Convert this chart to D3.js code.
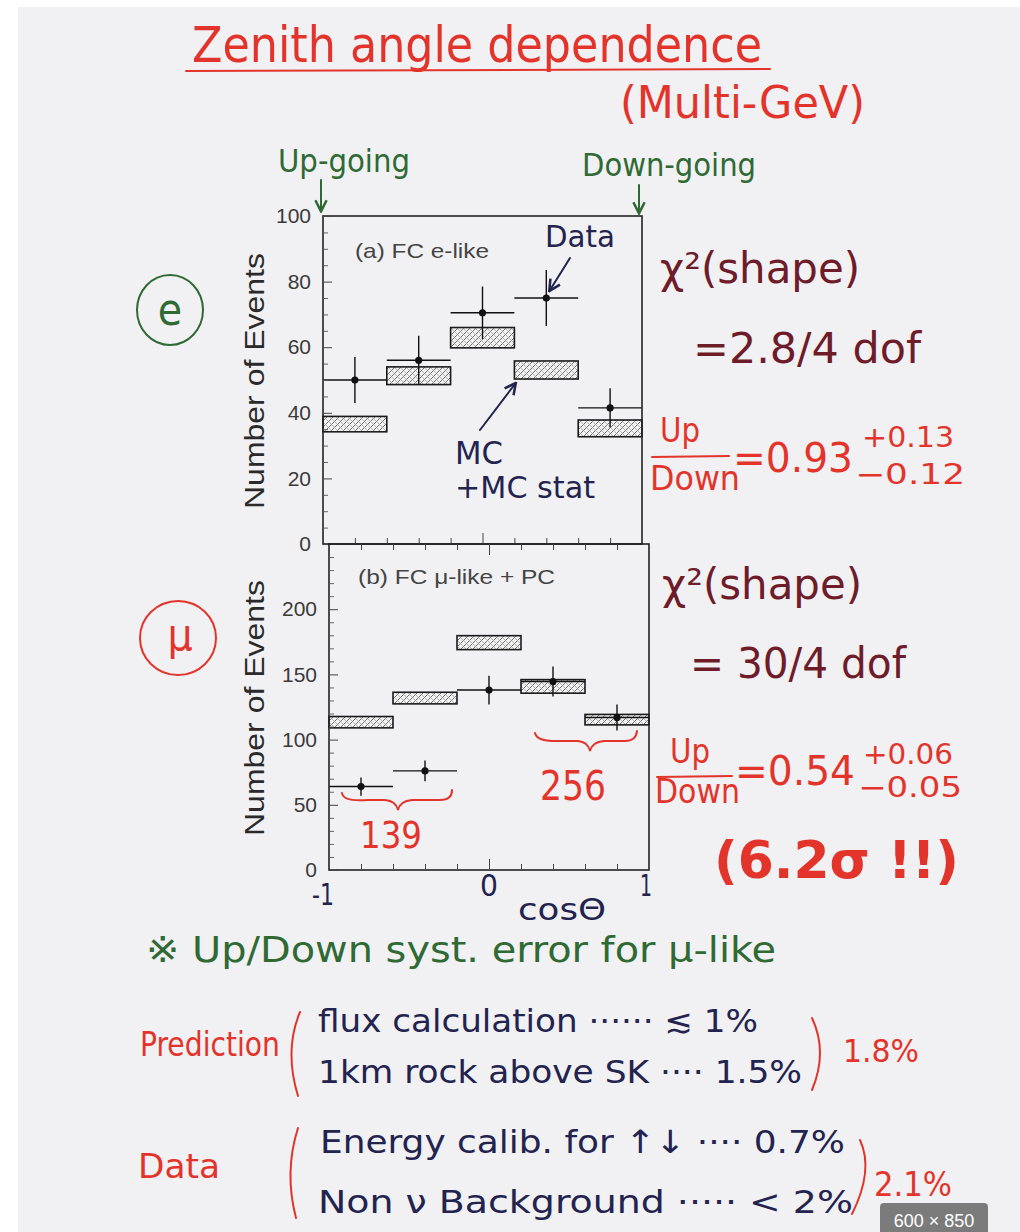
<!DOCTYPE html>
<html>
<head>
<meta charset="utf-8">
<script src="https://cdn.jsdelivr.net/npm/d3@7"></script>
<style>
  html, body { margin: 0; padding: 0; background: #ffffff; }
  svg { display: block; }
  .hand { font-family: "DejaVu Sans Condensed", "DejaVu Sans", sans-serif; }
  .print { font-family: "Liberation Sans", Arial, sans-serif; }
</style>
</head>
<body>
<script>
// ---- data: Super-Kamiokande multi-GeV zenith angle distributions ----
const binEdges = [-1, -0.6, -0.2, 0.2, 0.6, 1];          // cos(zenith) bins
const eData    = [50, 56, 70.5, 75, 41.5];               // FC e-like, data
const eErr     = [7, 7.5, 8, 8.5, 6];
const eMcLow   = [34.2, 48.6, 59.8, 50.3, 32.7];          // MC band (incl. MC stat)
const eMcHigh  = [38.9, 54, 66, 55.8, 37.8];
const muData   = [64, 76, 138, 144.5, 117];              // FC mu-like + PC, data
const muErr    = [7, 8, 11, 11.5, 10];
const muMcLow  = [109, 127.4, 169, 135.6, 111.3];
const muMcHigh = [117.7, 136.3, 179.7, 146, 119.3];
const eTicks   = [0, 20, 40, 60, 80, 100];
const muTicks  = [0, 50, 100, 150, 200];

const W = 1020, H = 1232;
const RED = "#e3342c", GREEN = "#2f6a34", NAVY = "#23234f", BROWN = "#6e1c2a";

const svg = d3.select("body").append("svg").attr("width", W).attr("height", H);

// page background
svg.append("rect").attr("x", 0).attr("y", 0).attr("width", W).attr("height", H).attr("fill", "#ffffff");
svg.append("rect").attr("x", 18).attr("y", 7).attr("width", W - 18).attr("height", H - 7).attr("fill", "#f1f1f3");

// cross-hatch fill for the MC boxes
const defs = svg.append("defs");
const pat = defs.append("pattern").attr("id", "hatch").attr("patternUnits", "userSpaceOnUse")
  .attr("width", 6).attr("height", 6);
pat.append("rect").attr("width", 6).attr("height", 6).attr("fill", "#f2f2f2");
pat.append("path").attr("d", "M0,6 L6,0 M-1,1 L1,-1 M5,7 L7,5").attr("stroke", "#6e6e6e").attr("stroke-width", 1);
pat.append("path").attr("d", "M0,3 L3,6 M3,0 L6,3").attr("stroke", "#9a9a9a").attr("stroke-width", 0.7);

const arrowHead = (id, color) => {
  defs.append("marker").attr("id", id).attr("viewBox", "0 0 10 10").attr("refX", 8).attr("refY", 5)
    .attr("markerWidth", 7).attr("markerHeight", 7).attr("orient", "auto-start-reverse")
    .append("path").attr("d", "M1,1 L9,5 L1,9").attr("fill", "none").attr("stroke", color).attr("stroke-width", 1.8);
};
arrowHead("arG", GREEN);
arrowHead("arN", NAVY);

// ---- panels ----
const panels = [
  { data: eData, err: eErr, lo: eMcLow, hi: eMcHigh, ticks: eTicks, minor: 5, max: 100,
    x: d3.scaleLinear([-1, 1], [323, 642]), y: d3.scaleLinear([0, 100], [544, 216]),
    label: "(a) FC e-like", labelPos: [355, 258], labelLen: 134, titleY: 381 },
  { data: muData, err: muErr, lo: muMcLow, hi: muMcHigh, ticks: muTicks, minor: 10, max: 250,
    x: d3.scaleLinear([-1, 1], [329, 649]), y: d3.scaleLinear([0, 250], [870, 544]),
    label: "(b) FC \u03bc-like + PC", labelPos: [358, 584], labelLen: 197, titleY: 708 }
];

panels.forEach((p, pi) => {
  const g = svg.append("g");
  const [x0, x1] = p.x.range(), [yb, yt] = p.y.range();
  const bins = d3.range(binEdges.length - 1);
  const mid = i => (binEdges[i] + binEdges[i + 1]) / 2;

  // MC boxes
  g.selectAll("rect.mc").data(bins).join("rect")
    .attr("x", i => p.x(binEdges[i]))
    .attr("width", i => p.x(binEdges[i + 1]) - p.x(binEdges[i]))
    .attr("y", i => p.y(p.hi[i]))
    .attr("height", i => p.y(p.lo[i]) - p.y(p.hi[i]))
    .attr("fill", "url(#hatch)").attr("stroke", "#1a1a1a").attr("stroke-width", 1.6);

  // data: horizontal bin span, vertical error, dot
  g.selectAll("line.h").data(bins).join("line")
    .attr("x1", i => p.x(binEdges[i])).attr("x2", i => p.x(binEdges[i + 1]))
    .attr("y1", i => p.y(p.data[i])).attr("y2", i => p.y(p.data[i]))
    .attr("stroke", "#111").attr("stroke-width", 1.4);
  g.selectAll("line.v").data(bins).join("line")
    .attr("x1", i => p.x(mid(i))).attr("x2", i => p.x(mid(i)))
    .attr("y1", i => p.y(p.data[i] - p.err[i])).attr("y2", i => p.y(p.data[i] + p.err[i]))
    .attr("stroke", "#111").attr("stroke-width", 1.4);
  g.selectAll("circle").data(bins).join("circle")
    .attr("cx", i => p.x(mid(i))).attr("cy", i => p.y(p.data[i]))
    .attr("r", 3.6).attr("fill", "#111");

  // frame
  g.append("rect").attr("x", x0).attr("y", yt).attr("width", x1 - x0).attr("height", yb - yt)
    .attr("fill", "none").attr("stroke", "#222").attr("stroke-width", 1.6);

  // y axis: labelled ticks + minor ticks, pointing inward
  const yAxis = g.append("g").attr("transform", `translate(${x0},0)`)
    .call(d3.axisLeft(p.y).tickValues(p.ticks).tickSizeInner(-9).tickSizeOuter(0).tickPadding(12).tickFormat(d3.format("d")));
  yAxis.select(".domain").remove();
  yAxis.selectAll("line").attr("stroke", "#444").attr("stroke-width", 1);
  yAxis.selectAll("text").attr("class", "print").attr("font-size", 21).attr("fill", "#3a3a3a");
  const minorVals = d3.range(0, p.max + 0.001, p.minor).filter(v => !p.ticks.includes(v) && v > 0 && v < p.max);
  const yMinor = g.append("g").attr("transform", `translate(${x0},0)`)
    .call(d3.axisLeft(p.y).tickValues(minorVals).tickSizeInner(-5).tickSizeOuter(0).tickFormat(""));
  yMinor.select(".domain").remove();
  yMinor.selectAll("line").attr("stroke", "#555").attr("stroke-width", 0.9);

  // x ticks every 0.2 on the bottom edge (pointing up) and the top edge (pointing down)
  const xVals = d3.range(-0.8, 0.81, 0.2).map(v => +v.toFixed(1));
  const xb = g.append("g").attr("transform", `translate(0,${yb})`)
    .call(d3.axisBottom(p.x).tickValues(xVals).tickSizeInner(-6).tickSizeOuter(0).tickFormat(""));
  xb.select(".domain").remove();
  xb.selectAll("line").attr("stroke", "#444").attr("y2", d => d === 0 ? -11 : -6);
  if (pi === 1) {
    const xt = g.append("g").attr("transform", `translate(0,${yt})`)
      .call(d3.axisTop(p.x).tickValues(xVals).tickSizeInner(-6).tickSizeOuter(0).tickFormat(""));
    xt.select(".domain").remove();
    xt.selectAll("line").attr("stroke", "#444").attr("y2", d => d === 0 ? 11 : 6);
  }

  // panel label
  g.append("text").attr("class", "print").attr("x", p.labelPos[0]).attr("y", p.labelPos[1])
    .attr("font-size", 21).attr("fill", "#444").attr("textLength", p.labelLen)
    .attr("lengthAdjust", "spacingAndGlyphs").text(p.label);

  // axis title
  g.append("text").attr("class", "print").attr("transform", `translate(264,${p.titleY}) rotate(-90)`)
    .attr("text-anchor", "middle").attr("font-size", 27).attr("fill", "#2a2a2a")
    .attr("textLength", 256).attr("lengthAdjust", "spacingAndGlyphs").text("Number of Events");
});

// ---- handwritten annotations ----
function hand(txt, x, y, size, color, len, opts = {}) {
  const t = svg.append("text").attr("class", "hand").attr("x", x).attr("y", y)
    .attr("font-size", size).attr("fill", color).text(txt);
  if (len) t.attr("textLength", len).attr("lengthAdjust", "spacingAndGlyphs");
  if (opts.weight) t.attr("font-weight", opts.weight);
  if (opts.anchor) t.attr("text-anchor", opts.anchor);
  return t;
}
function stroke(d, color, w = 2.2, marker) {
  const p = svg.append("path").attr("d", d).attr("fill", "none").attr("stroke", color)
    .attr("stroke-width", w).attr("stroke-linecap", "round");
  if (marker) p.attr("marker-end", `url(#${marker})`);
  return p;
}

// title
hand("Zenith angle dependence", 192, 62, 50, RED, 570);
stroke("M186,71 L770,69", RED, 2);
hand("(Multi-GeV)", 620, 118, 44, RED, 245);

// direction labels
hand("Up-going", 278, 172, 32, GREEN, 132);
stroke("M321,180 L321,210", GREEN, 2, "arG");
hand("Down-going", 582, 176, 32, GREEN, 174);
stroke("M639,185 L639,212", GREEN, 2, "arG");

// circled flavour markers
svg.append("ellipse").attr("cx", 170).attr("cy", 310).attr("rx", 33).attr("ry", 35)
  .attr("fill", "none").attr("stroke", GREEN).attr("stroke-width", 2);
hand("e", 170, 325, 44, GREEN, null, { anchor: "middle" });
svg.append("ellipse").attr("cx", 178).attr("cy", 638).attr("rx", 38).attr("ry", 37)
  .attr("fill", "none").attr("stroke", RED).attr("stroke-width", 2);
hand("\u03bc", 180, 650, 44, RED, null, { anchor: "middle" });

// callouts in the top panel
hand("Data", 545, 247, 30, NAVY, 70);
stroke("M570,258 L550,290", NAVY, 2, "arN");
stroke("M480,430 L515,384", NAVY, 2, "arN");
hand("MC", 455, 464, 32, NAVY, 48);
hand("+MC stat", 455, 498, 30, NAVY, 140);

// event counts under the mu-like braces
stroke("M342,793 Q343,802 368,800 L385,800 Q396,801 398,810 Q400,801 412,800 L440,800 Q452,800 452,790", RED, 2);
hand("139", 360, 848, 38, RED, 62);
stroke("M535,733 Q537,742 560,741 L578,741 Q588,742 590,751 Q592,742 604,741 L625,741 Q636,741 637,731", RED, 2);
hand("256", 540, 800, 40, RED, 66);

// x axis values and title
hand("-1", 312, 905, 30, NAVY, 22);
hand("0", 480, 896, 30, NAVY, 18);
hand("1", 640, 896, 30, NAVY, 12);
hand("cos\u0398", 518, 920, 30, NAVY, 88);

// e-like results
hand("\u03c7\u00b2(shape)", 660, 283, 42, BROWN, 200);
hand("=2.8/4 dof", 693, 363, 42, BROWN, 228);
hand("Up", 660, 442, 34, RED, 40);
stroke("M652,457 L729,456", RED, 2);
hand("Down", 650, 490, 34, RED, 90);
hand("=0.93", 733, 472, 40, RED, 120);
hand("+0.13", 862, 447, 28, RED, 92);
hand("\u22120.12", 855, 484, 28, RED, 110);

// mu-like results
hand("\u03c7\u00b2(shape)", 662, 599, 42, BROWN, 200);
hand("= 30/4 dof", 690, 678, 42, BROWN, 216);
hand("Up", 670, 763, 34, RED, 40);
stroke("M657,777 L732,776", RED, 2);
hand("Down", 655, 803, 34, RED, 85);
hand("=0.54", 735, 785, 40, RED, 120);
hand("+0.06", 863, 764, 28, RED, 90);
hand("\u22120.05", 858, 797, 28, RED, 104);
hand("(6.2\u03c3 !!)", 714, 878, 52, RED, 245, { weight: "bold" });

// systematic error notes
hand("\u203b Up/Down syst. error for \u03bc-like", 146, 962, 36, GREEN, 630);
hand("Prediction", 140, 1056, 34, RED, 140);
stroke("M300,1012 Q284,1050 298,1096", RED, 2);
hand("flux calculation \u00b7\u00b7\u00b7\u00b7\u00b7\u00b7 \u2272 1%", 318, 1032, 32, NAVY, 440);
hand("1km rock above SK \u00b7\u00b7\u00b7\u00b7 1.5%", 318, 1083, 32, NAVY, 484);
stroke("M812,1018 Q828,1052 812,1090", RED, 2);
hand("1.8%", 843, 1062, 32, RED, 76);
hand("Data", 138, 1178, 34, RED, 82);
stroke("M298,1128 Q284,1172 296,1218", RED, 2);
hand("Energy calib. for \u2191\u2193 \u00b7\u00b7\u00b7\u00b7 0.7%", 320, 1153, 32, NAVY, 525);
hand("Non \u03bd Background \u00b7\u00b7\u00b7\u00b7\u00b7 < 2%", 318, 1213, 32, NAVY, 535);
stroke("M860,1140 Q874,1170 852,1214", RED, 2);
hand("2.1%", 874, 1196, 34, RED, 78);

// image size badge
svg.append("rect").attr("x", 880).attr("y", 1203).attr("width", 108).attr("height", 34).attr("rx", 4)
  .attr("fill", "#7b7b7b");
svg.append("text").attr("class", "print").attr("x", 934).attr("y", 1227).attr("text-anchor", "middle")
  .attr("font-size", 18).attr("fill", "#ffffff").text("600 \u00d7 850");
</script>
</body>
</html>
